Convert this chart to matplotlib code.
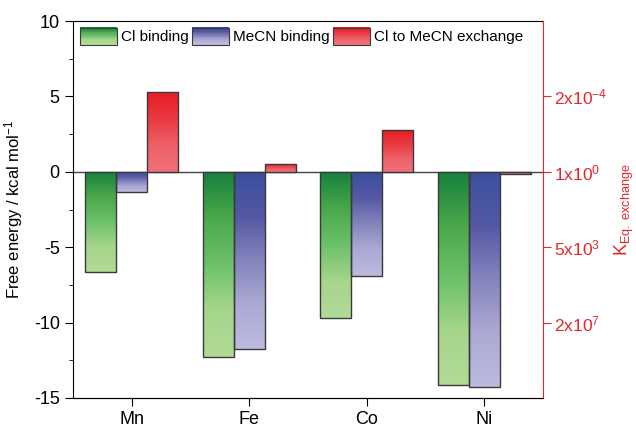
import matplotlib
matplotlib.use("Agg")
import matplotlib.pyplot as plt
import numpy as np
from matplotlib.colors import LinearSegmentedColormap
from matplotlib.patches import Rectangle
from matplotlib.legend_handler import HandlerPatch

plt.rcParams['font.family'] = ['Liberation Sans', 'DejaVu Sans']
plt.rcParams['axes.unicode_minus'] = False
plt.rcParams['mathtext.fontset'] = 'custom'
plt.rcParams['mathtext.rm'] = 'Liberation Sans'
plt.rcParams['mathtext.it'] = 'Liberation Sans'
plt.rcParams['mathtext.default'] = 'regular'

# data (kcal/mol)
metals = ["Mn", "Fe", "Co", "Ni"]
cl_binding = [-6.65, -12.27, -9.68, -14.15]
mecn_binding = [-1.35, -11.72, -6.9, -14.28]
exchange = [5.28, 0.55, 2.76, -0.16]
series_names = ["Cl binding", "MeCN binding", "Cl to MeCN exchange"]

# right axis: K_eq labels at these free energies
k_ticks = [5, 0, -5, -10]
k_labels = ["2x10$^{-4}$", "1x10$^{0}$", "5x10$^{3}$", "2x10$^{7}$"]

# gradient colours (top -> bottom)
grads = [
    ["#16803e", "#4aa84a", "#6cc06a", "#a6d68c", "#b2da96"],
    ["#3a4f9e", "#5458a4", "#8484bc", "#acaad4", "#bcbade"],
    ["#e81c24", "#ea3a42", "#ee6068", "#f07078"],
]
cmaps = [LinearSegmentedColormap.from_list("g%d" % i, c) for i, c in enumerate(grads)]

fig = plt.figure(figsize=(6.36, 4.29), dpi=100)
ax = fig.add_axes([73/636, 1-398/429, 470/636, 377/429])

x = np.arange(len(metals))
w = 0.265
grad_img = np.linspace(0, 1, 256).reshape(-1, 1)

for i, vals in enumerate([cl_binding, mecn_binding, exchange]):
    bars = ax.bar(x + (i-1)*w, vals, w, facecolor='none', edgecolor='#3a3a3a', linewidth=1.0, zorder=3)
    for b in bars:
        x0, y0 = b.get_x(), b.get_y()
        bw, bh = b.get_width(), b.get_height()
        top = max(y0, y0+bh)
        bot = min(y0, y0+bh)
        im = ax.imshow(grad_img, cmap=cmaps[i], aspect='auto', origin='upper',
                       extent=[x0, x0+bw, bot, top], zorder=2, interpolation='bilinear')
        im.set_clip_path(b)

ax.axhline(0, color='#444444', linewidth=1.0, zorder=1)

ax.set_xlim(-0.5, 3.5)
ax.set_ylim(-15, 10)
ax.set_xticks(x)
ax.set_xticklabels(metals, fontsize=13)
ax.set_yticks([10, 5, 0, -5, -10, -15])
ax.set_yticks([7.5, 2.5, -2.5, -7.5, -12.5], minor=True)
ax.tick_params(axis='y', which='major', direction='out', length=6, labelsize=13)
ax.tick_params(axis='y', which='minor', direction='out', length=3)
ax.tick_params(axis='x', direction='out', length=6, labelsize=13)
ax.set_ylabel("Free energy / kcal mol$^{-1}$", fontsize=12, labelpad=6)
ax.spines['right'].set_visible(False)

ax2 = ax.twinx()
ax2.set_ylim(-15, 10)
ax2.set_yticks(k_ticks)
ax2.set_yticklabels(k_labels)
ax2.tick_params(axis='y', colors='#e8262a', direction='out', length=6, labelsize=12.5, pad=2)
ax2.spines['right'].set_color('#e8262a')
ax2.spines['left'].set_visible(False)
ax2.spines['top'].set_visible(False)
ax2.set_ylabel("K$_{Eq.\\ exchange}$", color='#e8262a', fontsize=13, labelpad=4)


class GradHandler(HandlerPatch):
    def __init__(self, cmap):
        super().__init__()
        self.cmap = cmap

    def create_artists(self, legend, orig_handle, xdescent, ydescent, width, height, fontsize, trans):
        arts = []
        n = 20
        for k in range(n):
            c = self.cmap(k/(n-1))
            r = Rectangle((-xdescent, -ydescent + height*(1-(k+1)/n)), width, height/n + 0.3,
                          facecolor=c, edgecolor='none', transform=trans)
            arts.append(r)
        arts.append(Rectangle((-xdescent, -ydescent), width, height, facecolor='none',
                              edgecolor='#3a3a3a', linewidth=0.8, transform=trans))
        return arts


handles = [Rectangle((0, 0), 1, 1) for _ in series_names]
leg = ax.legend(handles, series_names, ncol=3, loc='upper left', frameon=False,
                fontsize=11, handlelength=2.4, handleheight=1.3, handletextpad=0.3,
                columnspacing=0.2, borderaxespad=0.35, borderpad=0.1,
                handler_map={h: GradHandler(c) for h, c in zip(handles, cmaps)})

fig.savefig("out.png", dpi=100)
